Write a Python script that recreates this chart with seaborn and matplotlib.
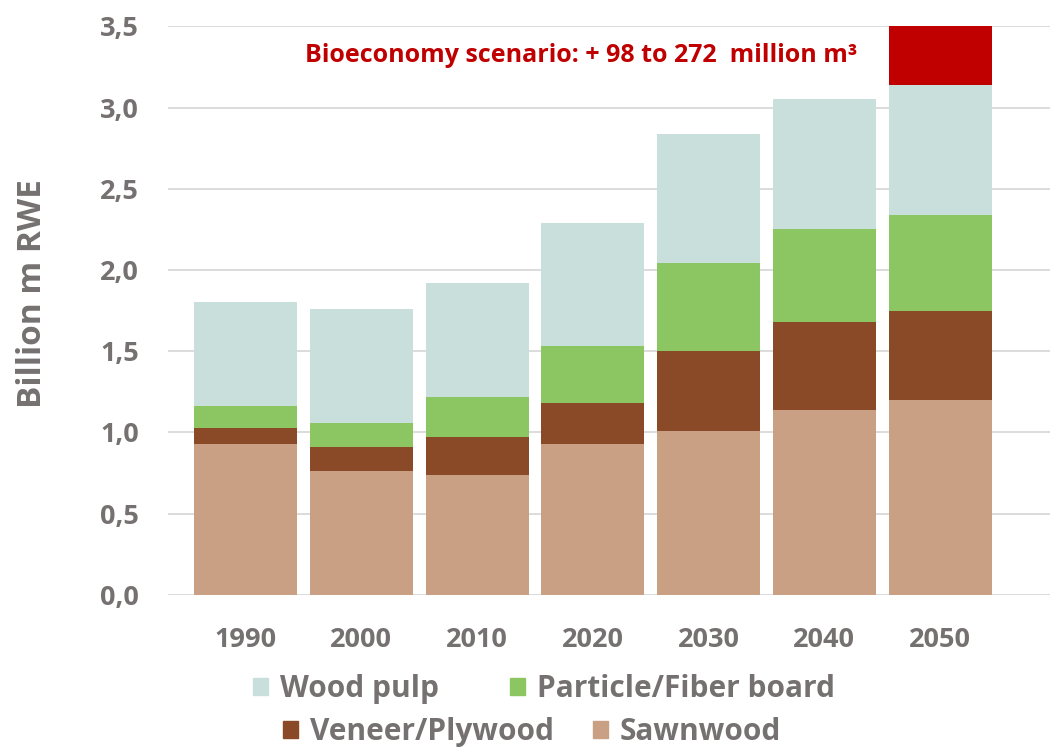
import matplotlib
matplotlib.use("Agg")
import matplotlib.pyplot as plt
from matplotlib.ticker import FuncFormatter
from matplotlib.patches import Patch
import numpy as np
import pandas as pd
import seaborn as sns

years = ["1990", "2000", "2010", "2020", "2030", "2040", "2050"]
sawnwood = [0.93, 0.76, 0.74, 0.93, 1.01, 1.14, 1.20]
veneer = [0.10, 0.15, 0.23, 0.25, 0.49, 0.54, 0.55]
particle = [0.13, 0.15, 0.25, 0.35, 0.54, 0.57, 0.59]
pulp = [0.64, 0.70, 0.70, 0.76, 0.80, 0.80, 0.80]
bio_year = ["2050"]
bio_extra = [0.36]

c_sawn = "#C9A084"
c_veneer = "#8B4A27"
c_particle = "#8BC663"
c_pulp = "#C9DFDC"
c_bio = "#C00000"
grey = "#767171"

sns.set_style("white")
plt.rcParams["font.family"] = ["Open Sans", "DejaVu Sans"]

df = pd.DataFrame({"year": years, "sawn": sawnwood, "veneer": veneer,
                   "particle": particle, "pulp": pulp})
df["c_sawn"] = df["sawn"]
df["c_veneer"] = df["c_sawn"] + df["veneer"]
df["c_particle"] = df["c_veneer"] + df["particle"]
df["c_pulp"] = df["c_particle"] + df["pulp"]

bio = pd.DataFrame({"year": bio_year, "extra": bio_extra})
bio["top"] = bio["extra"] + df.set_index("year").loc[bio_year, "c_pulp"].values

fig = plt.figure(figsize=(10.5, 7.52), dpi=100)
ax = fig.add_axes([0.16, 0.209, 0.84, 0.756])

w = 0.89
sns.barplot(data=bio, x="year", y="top", order=years, color=c_bio, width=w,
            saturation=1, linewidth=0, ax=ax)
for col, c in [("c_pulp", c_pulp), ("c_particle", c_particle),
               ("c_veneer", c_veneer), ("c_sawn", c_sawn)]:
    sns.barplot(data=df, x="year", y=col, order=years, color=c, width=w,
                saturation=1, linewidth=0, ax=ax)

ax.set_ylim(0, 3.5)
ax.set_xlim(-0.67, 6.95)
ax.set_yticks(np.arange(0, 3.51, 0.5))
ax.yaxis.set_major_formatter(FuncFormatter(lambda v, p: f"{v:.1f}".replace(".", ",")))
ax.yaxis.grid(True, color="#d9d9d9", lw=1.3)
ax.set_axisbelow(True)
for s in ax.spines.values():
    s.set_visible(False)
ax.tick_params(axis="y", length=0, pad=21, labelsize=19.5, labelcolor=grey)
ax.tick_params(axis="x", length=0, pad=23, labelsize=19.5, labelcolor=grey)
for t in ax.get_xticklabels() + ax.get_yticklabels():
    t.set_fontweight("bold")
ax.set_xlabel("")
ax.set_ylabel("Billion m RWE", fontsize=24, fontweight="bold", color=grey)
ax.yaxis.set_label_coords(-0.135, 0.53)

ax.text(0.155, 0.948, "Bioeconomy scenario: + 98 to 272  million m³",
        transform=ax.transAxes, color=c_bio, fontsize=18, fontweight="bold",
        ha="left", va="center")

lkw = dict(frameon=False, ncol=2, handlelength=0.5, handleheight=0.5,
           handletextpad=0.4, borderaxespad=0,
           prop={"size": 21.5, "weight": "bold"}, labelcolor=grey)
fig.legend(handles=[Patch(color=c_pulp, label="Wood pulp"),
                    Patch(color=c_particle, label="Particle/Fiber board")],
           loc="center", bbox_to_anchor=(0.518, 0.084), columnspacing=2.4, **lkw)
fig.legend(handles=[Patch(color=c_veneer, label="Veneer/Plywood"),
                    Patch(color=c_sawn, label="Sawnwood")],
           loc="center", bbox_to_anchor=(0.507, 0.027), columnspacing=1.3, **lkw)

fig.savefig("out.png", dpi=100)
